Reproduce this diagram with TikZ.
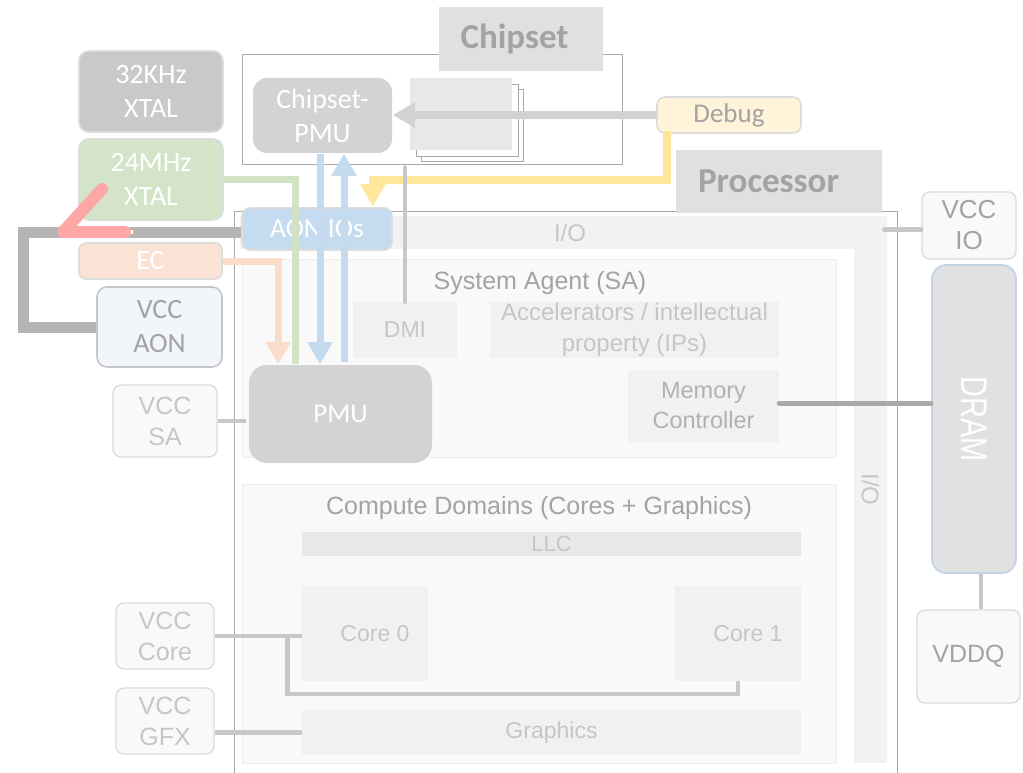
\documentclass[tikz,border=0pt]{standalone}
\usepackage{fontspec}
\setmainfont{Carlito}
\newfontfamily\arl{Liberation Sans}
\newfontfamily\arldram[FakeStretch=0.78]{Liberation Sans}
\usetikzlibrary{arrows.meta,calc}

\newcommand\fsz[2]{\fontsize{#1}{#2}\selectfont}

\definecolor{cLabel}{HTML}{E0E0E0}
\definecolor{cLabelTxt}{HTML}{A3A3A3}
\definecolor{cPmu}{HTML}{D3D3D3}
\definecolor{cXtal}{HTML}{C9C9C9}
\definecolor{cXtalG}{HTML}{D3E4C8}
\definecolor{cEc}{HTML}{FAE3D5}
\definecolor{cAonFill}{HTML}{F2F6FB}
\definecolor{cAonIo}{HTML}{C5DCF0}
\definecolor{cDebug}{HTML}{FFF3D9}
\definecolor{cBoxEdge}{HTML}{DCDCDC}
\definecolor{cVccFill}{HTML}{F9F9F9}
\definecolor{cTxt}{HTML}{A3A3A3}
\definecolor{cDim}{HTML}{C6C6C6}
\definecolor{cRegion}{HTML}{F9F9F9}
\definecolor{cRegionEdge}{HTML}{EDEDED}
\definecolor{cBlk}{HTML}{F1F1F1}
\definecolor{cLlc}{HTML}{E8E8E8}
\definecolor{cBand}{HTML}{F2F2F2}
\definecolor{cOutline}{HTML}{A8A8A8}
\definecolor{cDram}{HTML}{E1E1E1}
\definecolor{cDramEdge}{HTML}{C3D4E6}
\definecolor{cWire}{HTML}{C8C8C8}
\definecolor{cWireDark}{HTML}{A9A9A9}
\definecolor{cBus}{HTML}{B4B4B4}
\definecolor{cGreen}{HTML}{D1E3C3}
\definecolor{cBlue}{HTML}{C3DAEF}
\definecolor{cPeach}{HTML}{F9DCCA}
\definecolor{cYellow}{HTML}{FFE69A}
\definecolor{cRed}{HTML}{FFA6A6}
\definecolor{cDebugWire}{HTML}{D2D2D2}
\definecolor{cStack}{HTML}{E8E8E8}

\begin{document}
\begin{tikzpicture}[x=1pt,y=-1pt,
  base/.style={rectangle, inner sep=0pt, align=center},
  lbl/.style={base, fill=cLabel, text=cLabelTxt, font=\bfseries\fsz{35}{40}},
  hw/.style={base, rounded corners=10pt, line width=1.6pt, draw=cBoxEdge, text=white, font=\fsz{28}{34}},
  vcc/.style={base, rounded corners=8pt, line width=1.4pt, fill=cVccFill, draw=cBoxEdge, text=cTxt, font=\arl\fsz{25}{31}},
  vccdim/.style={vcc, text=cDim},
  region/.style={base, fill=cRegion, draw=cRegionEdge, line width=0.8pt, text=cTxt, font=\arl\fsz{25}{31}},
  blk/.style={base, fill=cBlk, text=cDim, font=\arl\fsz{23}{31}},
  outline/.style={base, draw=cOutline, line width=0.9pt},
  wire/.style={draw=cWire, line width=4.5pt},
  tip/.style={-{Triangle[width=24pt,length=22pt]}},
]
\useasboundingbox (0,0) rectangle (1023,773);
\clip (0,0) rectangle (1023,773);

% ---------------- chipset ----------------
\node[outline, minimum width=380pt, minimum height=110pt] (chipbox) at (432,109) {};
\node[outline, fill=white, minimum width=102pt, minimum height=72pt] (stackc) at (472,125) {};
\node[outline, fill=white, minimum width=102pt, minimum height=72pt] (stackb) at (467,120) {};
\node[base, fill=cStack, minimum width=102pt, minimum height=72pt] (stacka) at (461,114) {};
\node[lbl, minimum width=164pt, minimum height=64pt] (chiplabel) at (521,39) {Chipset\hspace*{13pt}};
\node[hw, draw=none, fill=cPmu, rounded corners=14pt, minimum width=139pt, minimum height=75pt] (cpmu) at (322.5,115.5) {Chipset-\\PMU};
\node[hw, draw=cBoxEdge, fill=cDebug, rounded corners=8pt, text=cTxt, font=\fsz{27}{32},
      minimum width=144pt, minimum height=36pt] (debug) at (729,115) {Debug};

% ---------------- processor ----------------
\node[outline, minimum width=663pt, minimum height=600pt, anchor=north west] (procbox) at (234,211) {};
\node[lbl, minimum width=206pt, minimum height=63pt] (proclabel) at (779,181.5) {Processor\hspace*{21pt}};

\node[base, fill=cBand, text=cDim, font=\arl\fsz{24}{30}, minimum width=647pt, minimum height=33pt] (ioh) at (563.5,232.5) {\hspace*{13pt}I/O};
\node[base, fill=cBand, text=cDim, font=\arl\fsz{24}{30}, rotate=-90, minimum width=547pt, minimum height=33pt] (iov) at (870.5,489.5) {I/O};

% system agent
\node[region, minimum width=594pt, minimum height=198pt] (sa) at (539,358) {};
\node[base, text=cTxt, font=\arl\fsz{25}{31}] (satitle) at (540,283) {System Agent (SA)};
\node[blk, minimum width=104pt, minimum height=56pt] (dmi) at (405,330) {DMI};
\node[blk, minimum width=289pt, minimum height=56pt, font=\arl\fsz{24}{31}] (acc) at (634.5,330) {Accelerators / intellectual\\property (IPs)};
\node[blk, text=cTxt!85!white, font=\arl\fsz{23.5}{30}, minimum width=151pt, minimum height=72pt] (mc) at (703.5,406) {Memory\\Controller};

% compute domains
\node[region, minimum width=594pt, minimum height=279pt] (cd) at (539,623.5) {};
\node[base, text=cTxt, font=\arl\fsz{25}{31}] (cdtitle) at (539,508) {Compute Domains (Cores + Graphics)};
\node[base, fill=cLlc, text=cDim, font=\arl\fsz{22}{28}, minimum width=499pt, minimum height=24pt] (llc) at (551.5,544) {LLC};
\node[blk, minimum width=126pt, minimum height=95pt] (core0) at (365,633.5) {\hspace*{20pt}Core 0};
\node[blk, minimum width=126pt, minimum height=95pt] (core1) at (738,633.5) {\hspace*{20pt}Core 1};
\node[blk, minimum width=499pt, minimum height=45pt] (gfx) at (551.5,732.5) {Graphics};

% always-on I/Os and power management unit
\node[hw, fill=cAonIo, rounded corners=8pt, font=\fsz{27.5}{32}, minimum width=150pt, minimum height=42pt] (aon) at (317,229) {AON IOs};
\node[hw, draw=none, fill=cPmu, rounded corners=18pt, font=\fsz{27}{32}, minimum width=183pt, minimum height=98pt] (pmu) at (340.5,414) {PMU};

% ---------------- left side: clocks, EC, rails ----------------
\node[hw, fill=cXtal, minimum width=144pt, minimum height=81pt] (xtal32) at (151,91.5) {32KHz\\XTAL};
\node[hw, fill=cXtalG, minimum width=144pt, minimum height=81pt] (xtal24) at (151,179.5) {24MHz\\XTAL};
\node[hw, fill=cEc, rounded corners=7pt, minimum width=143pt, minimum height=36pt] (ec) at (150.5,261) {EC};
\node[hw, fill=cAonFill, draw=cBoxEdge!90!black, text=cTxt, minimum width=125pt, minimum height=80pt] (vccaon) at (159.5,327) {VCC\\AON};

\node[vccdim, minimum width=104pt, minimum height=72pt] (vccsa) at (165,421) {VCC\\SA};
\node[vccdim, minimum width=98pt, minimum height=66pt] (vcccore) at (165,636) {VCC\\Core};
\node[vccdim, minimum width=98pt, minimum height=66pt] (vccgfx) at (165,721) {VCC\\GFX};

% ---------------- right side: memory ----------------
\node[vcc, font=\arl\fsz{26}{31}, minimum width=94pt, minimum height=67pt] (vccio) at (969,225.5) {VCC\\IO};
\node[base, rounded corners=14pt, fill=cDram, draw=cDramEdge, line width=1.8pt, text=white, font=\arldram\fsz{37}{40},
      rotate=-90, minimum width=308pt, minimum height=84pt] (dram) at (974,419) {DRAM};
\node[vcc, minimum width=103pt, minimum height=93pt] (vddq) at (968.5,656.5) {VDDQ};

% ---------------- connectors ----------------
% always-on rail from VCC AON to the AON IOs
\draw[draw=cBus, line width=11pt] ($(aon.west)+(0,3)$) -- ++(-218,0) |- (vccaon.west);
% 24 MHz clock tap
\coordinate (rA) at (102,189);
\coordinate (rB) at (63,232);
\coordinate (rC) at (125,232);
\draw[draw=white, line width=4pt] ($(rC)+(5,0)$) -- ++(3,0);
\draw[draw=cRed, line width=12pt, line cap=round, line join=round] (rA) -- (rB) -- (rC);

% clock to PMU
\draw[draw=cGreen, line width=7pt] (xtal24.east) -| ($(pmu.north west)+(47,0)$);
% EC to PMU
\draw[draw=cPeach, line width=7pt, tip] (ec.east) -| ($(pmu.north west)+(30,0)$);
% PMU <-> chipset PMU handshake
\coordinate (bD) at ($(cpmu.south)+(-2.5,0)$);
\coordinate (bU) at ($(cpmu.south)+(21.5,0)$);
\draw[draw=cBlue, line width=7pt, tip] (bD) -- (bD |- pmu.north);
\draw[draw=cBlue, line width=7pt, tip] ($(bU |- pmu.north)+(0,-2)$) -- (bU);

% debug paths
\draw[draw=cDebugWire, line width=8pt, tip] (debug.west) -- (debug.west -| cpmu.east);
\coordinate (yA) at ($(debug.south west)+(11,-3)$);
\coordinate (yB) at ($(aon.north east)+(-20,-1)$);
\draw[draw=cYellow, line width=8pt, tip] (yA) -- ++(0,49) -| (yB);

% DMI link to chipset
\draw[wire, line cap=round] ($(dmi.north |- chipbox.south)+(0,3)$) -- (dmi.north);
% memory channel (the DRAM node is turned, so its south side faces left)
\draw[draw=cWireDark, line width=5pt, line cap=round] ($(mc.east)+(0,-3)$) -- ($(mc.east -| dram.south)+(0,-3)$);
% supply rails
\draw[wire, line cap=round] ($(vccio.west)+(0,4)$) -- ++(-37,0);
\coordinate (dq) at ($(dram.east)+(7,0)$);
\draw[wire] (dq) -- (dq |- vddq.north);
\draw[wire] (vccsa.east) -- ++(28,0);
\draw[wire] (vcccore.east) -- (vcccore.east -| core0.west);
\coordinate (cb) at ($(vcccore.east)+(73,0)$);
\draw[wire] (cb) |- ($(core1.south)+(0,13)$) -- (core1.south);
\draw[wire] (gfx.west) -- (gfx.west -| vccgfx.east);
\end{tikzpicture}
\end{document}
